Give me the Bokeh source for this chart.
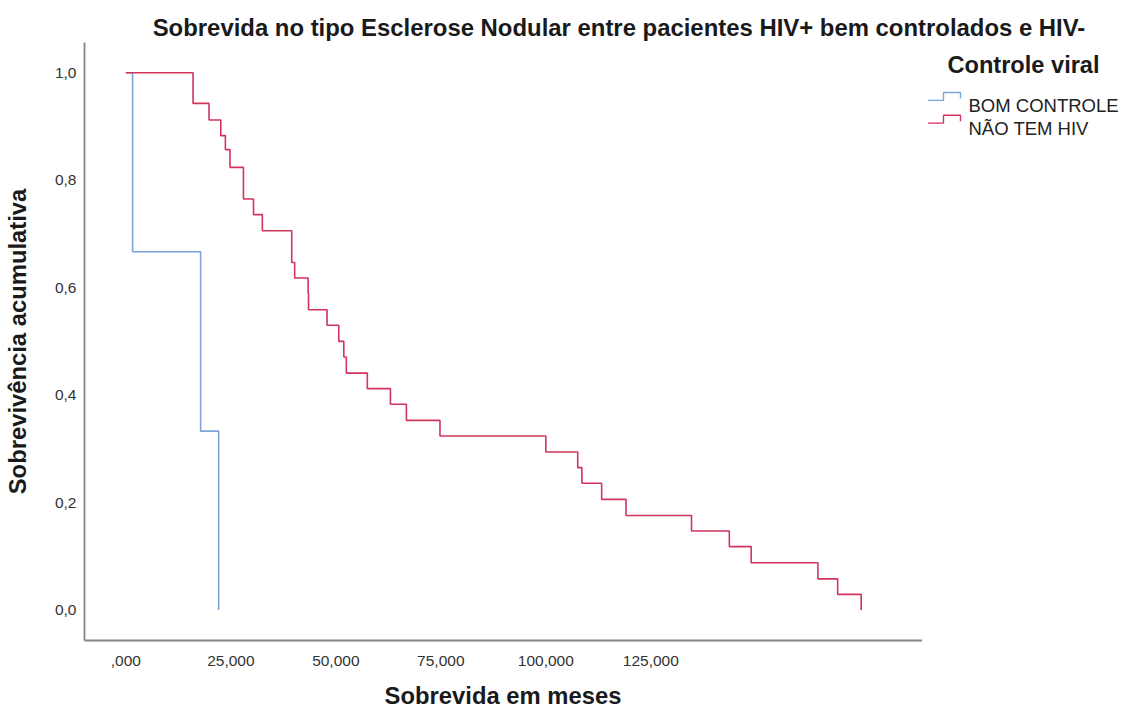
from bokeh.plotting import figure
from bokeh.layouts import column, row
from bokeh.models import FixedTicker, Range1d
from bokeh.core.properties import value
from bokeh.embed import file_html
from bokeh.resources import INLINE

# ---------------- data ----------------
title_text = "Sobrevida no tipo Esclerose Nodular entre pacientes HIV+ bem controlados e HIV-"
x_label = "Sobrevida em meses"
y_label = "Sobrevivência acumulativa"
legend_title = "Controle viral"
series_names = ["BOM CONTROLE", "NÃO TEM HIV"]

# BOM CONTROLE (HIV+ well controlled)
bom_time = [0.0, 1.6, 17.8, 22.1]
bom_surv = [1.0, 0.667, 0.333, 0.0]

# NÃO TEM HIV (HIV-)
nao_time = [0.0, 16.0, 19.8, 22.6, 23.7, 24.8, 28.0, 30.4, 32.5, 39.5, 40.2,
            43.4, 43.5, 47.9, 50.7, 51.9, 52.5, 57.5, 63.0, 66.8, 74.8,
            100.0, 107.6, 108.6, 113.3, 119.1, 134.7, 143.7, 148.9, 164.8,
            169.5, 175.1]
nao_surv = [1.0, 0.943, 0.912, 0.883, 0.857, 0.824, 0.765, 0.736, 0.706,
            0.647, 0.618, 0.589, 0.559, 0.530, 0.500, 0.471, 0.441, 0.412,
            0.383, 0.353, 0.324, 0.294, 0.265, 0.236, 0.206, 0.176, 0.147,
            0.118, 0.088, 0.058, 0.029, 0.0]

x_ticks = [0, 25, 50, 75, 100, 125]
x_tick_labels = [",000", "25,000", "50,000", "75,000", "100,000", "125,000"]
y_ticks = [0.0, 0.2, 0.4, 0.6, 0.8, 1.0]
y_tick_labels = ["0,0", "0,2", "0,4", "0,6", "0,8", "1,0"]

# ---------------- styling ----------------
FONT = "Liberation Sans"
BLUE = "#7AA5DA"
RED = "#D2345D"
AXIS_GRAY = "#858585"
TEXT_DARK = "#1a1a1a"
W, H = 1129, 710
TOP = 42          # height of title strip
BOTTOM = 35       # height of x-label strip
PLOT_W = 922      # width of the plot figure (frame right edge)
MID_H = H - TOP - BOTTOM


def blank(fig):
    fig.xaxis.visible = False
    fig.yaxis.visible = False
    fig.xgrid.visible = False
    fig.ygrid.visible = False
    fig.outline_line_color = None
    fig.background_fill_color = "white"
    fig.border_fill_color = "white"
    return fig


# ---------------- title strip (pixel coordinates) ----------------
pt = blank(figure(width=W, height=TOP, output_backend="svg", toolbar_location=None,
                  min_border=0, x_range=Range1d(0, W), y_range=Range1d(TOP, 0)))
pt.text(x=[618.5], y=[27.3], text=[title_text], text_font=value(FONT),
        text_font_style="bold", text_font_size="23.9px", text_align="center",
        text_baseline="alphabetic", text_color=TEXT_DARK)

# ---------------- main plot ----------------
p = figure(width=PLOT_W, height=MID_H, output_backend="svg", toolbar_location=None,
           min_border_left=83, min_border_right=0, min_border_top=0,
           min_border_bottom=BOTTOM,
           x_range=Range1d(-9.85, 189.7), y_range=Range1d(-0.0568, 1.0564))
p.outline_line_color = None
p.background_fill_color = "white"
p.border_fill_color = "white"
p.xgrid.visible = False
p.ygrid.visible = False

p.xaxis.ticker = FixedTicker(ticks=x_ticks)
p.xaxis.major_label_overrides = {t: l for t, l in zip(x_ticks, x_tick_labels)}
p.yaxis.ticker = FixedTicker(ticks=y_ticks)
p.yaxis.major_label_overrides = {t: l for t, l in zip(y_ticks, y_tick_labels)}
for ax in (p.xaxis[0], p.yaxis[0]):
    ax.axis_line_color = AXIS_GRAY
    ax.axis_line_width = 1.8
    ax.major_tick_line_color = None
    ax.minor_tick_line_color = None
    ax.major_tick_out = 0
    ax.major_tick_in = 0
    ax.minor_tick_out = 0
    ax.minor_tick_in = 0
    ax.major_label_text_font = FONT
    ax.major_label_text_font_size = "15.5px"
    ax.major_label_text_color = "#333333"
    ax.axis_label_text_font = FONT
    ax.axis_label_text_font_style = "bold"
    ax.axis_label_text_font_size = "23.8px"
    ax.axis_label_text_color = TEXT_DARK
p.yaxis.axis_label = y_label
p.yaxis.major_label_standoff = 8
p.yaxis.axis_label_standoff = 21
p.xaxis.major_label_standoff = 15

p.step(bom_time, bom_surv, mode="after", line_color=BLUE, line_width=1.6)
p.step(nao_time, nao_surv, mode="after", line_color=RED, line_width=1.6)

# ---------------- legend strip (pixel coordinates of the page) ----------------
pl = blank(figure(width=W - PLOT_W, height=MID_H, output_backend="svg",
                  toolbar_location=None, min_border=0,
                  x_range=Range1d(PLOT_W, W), y_range=Range1d(H - BOTTOM, TOP)))
pl.text(x=[1023], y=[66.2], text=[legend_title], text_font=value(FONT),
        text_font_style="bold", text_font_size="23.6px", text_align="center",
        text_baseline="alphabetic", text_color=TEXT_DARK)
legend_baselines = [108.3, 133.3]
icon_low = [103.3, 127.3]
icon_colors = [BLUE, RED]
pl.text(x=[968, 968], y=legend_baselines, text=series_names, text_font=value(FONT),
        text_font_size="18.5px", text_align="left", text_baseline="alphabetic",
        text_color="#222222")
for lo, col in zip(icon_low, icon_colors):
    pl.line(x=[927.5, 943, 943, 960, 960], y=[lo, lo, lo - 8.3, lo - 8.3, lo - 2],
            line_color=col, line_width=1.4)

# ---------------- x-axis title strip (pixel coordinates of the page) ----------------
pb = blank(figure(width=W, height=BOTTOM, output_backend="svg", toolbar_location=None,
                  min_border=0, x_range=Range1d(0, W), y_range=Range1d(H, H - BOTTOM)))
pb.text(x=[502.5], y=[695], text=[x_label], text_font=value(FONT),
        text_font_style="bold", text_font_size="23.8px", text_align="center",
        text_baseline="alphabetic", text_color=TEXT_DARK)

layout = column(pt, row(p, pl, spacing=0), pb, spacing=0)
open("out.html", "w").write(file_html(layout, INLINE))
